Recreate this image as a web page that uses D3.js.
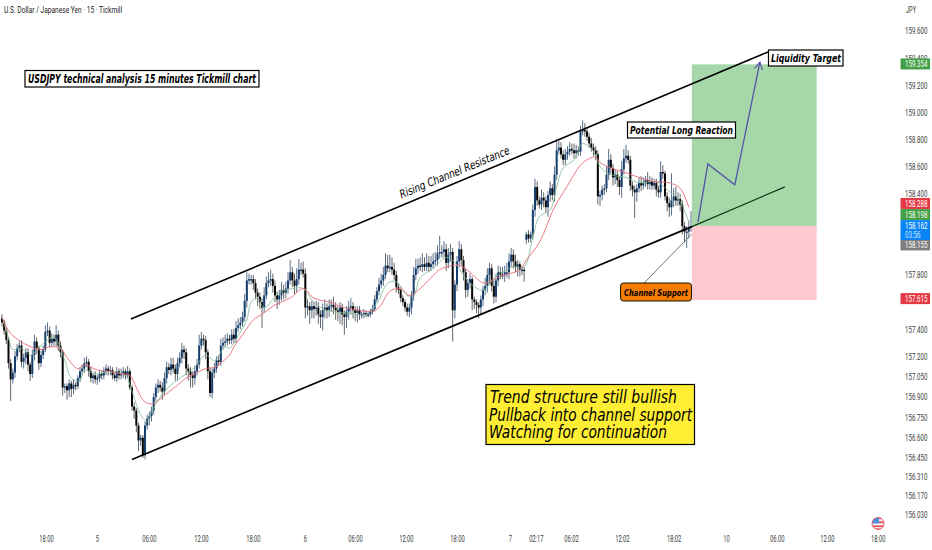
<!DOCTYPE html>
<html><head><meta charset="utf-8">
<script src="https://cdnjs.cloudflare.com/ajax/libs/d3/7.8.5/d3.min.js"></script>
<style>html,body{margin:0;padding:0;background:#fff}svg{display:block}
.ann{font-family:"DejaVu Sans",sans-serif;font-style:italic;fill:#000}
.ax{font-family:"Liberation Sans Narrow",Roboto,sans-serif;fill:#3a3a3a}</style>
</head><body><div id="chart"></div>
<script>
// Closing prices, one per 15-minute bar
const closes=[
157.45,157.39,157.32,157.15,157.03,157.08,157.20,157.26,157.28,157.16,157.19,157.23,157.14,157.07,157.21,157.31,157.26,157.15,157.21,157.25,
157.38,157.39,157.30,157.33,157.31,157.36,157.28,157.23,156.97,156.98,156.95,157.00,156.96,156.99,156.98,157.04,157.09,157.11,157.15,157.16,
157.09,157.04,157.06,157.03,157.04,157.07,157.06,157.09,157.11,157.09,157.10,157.06,157.04,157.09,157.06,157.07,157.09,157.06,157.09,156.97,
156.83,156.80,156.69,156.58,156.60,156.47,156.69,156.74,156.76,156.80,156.90,156.97,156.99,156.97,156.94,157.04,157.12,157.10,157.14,157.11,
157.07,157.15,157.19,157.25,157.23,157.11,157.09,157.06,157.04,157.09,157.14,157.28,157.33,157.32,157.23,157.09,156.93,157.08,157.11,157.17,
157.16,157.28,157.30,157.31,157.33,157.32,157.36,157.33,157.41,157.43,157.45,157.49,157.61,157.76,157.77,157.77,157.74,157.67,157.64,157.60,
157.56,157.65,157.74,157.76,157.77,157.72,157.65,157.62,157.65,157.69,157.67,157.70,157.76,157.82,157.76,157.72,157.77,157.84,157.84,157.81,
157.56,157.57,157.54,157.57,157.55,157.56,157.51,157.49,157.54,157.56,157.54,157.57,157.58,157.56,157.54,157.53,157.56,157.51,157.49,157.53,
157.56,157.57,157.54,157.52,157.54,157.51,157.51,157.52,157.51,157.51,157.53,157.55,157.62,157.68,157.73,157.76,157.80,157.87,157.85,157.86,
157.84,157.80,157.71,157.69,157.63,157.60,157.56,157.53,157.56,157.65,157.80,157.85,157.87,157.86,157.88,157.86,157.89,157.86,157.88,157.90,
157.91,157.96,157.97,157.97,157.99,157.89,157.95,157.97,157.54,157.73,157.90,157.99,157.91,157.82,157.69,157.74,157.77,157.62,157.60,157.58,
157.56,157.62,157.69,157.72,157.80,157.85,157.72,157.64,157.76,157.82,157.80,157.80,157.82,157.82,157.90,157.95,157.90,157.86,157.88,157.84,
157.84,157.83,158.10,158.07,158.10,158.28,158.45,158.35,158.32,158.37,158.35,158.30,158.39,158.44,158.39,158.54,158.72,158.74,158.69,158.65,
158.69,158.71,158.73,158.72,158.70,158.72,158.71,158.86,158.87,158.86,158.82,158.77,158.74,158.72,158.69,158.38,158.39,158.43,158.44,158.54,
158.65,158.59,158.52,158.54,158.50,158.45,158.58,158.66,158.68,158.65,158.46,158.43,158.41,158.44,158.48,158.46,158.48,158.50,158.47,158.49,
158.46,158.48,158.43,158.41,158.56,158.55,158.38,158.33,158.30,158.35,158.38,158.35,158.36,158.32,158.16,158.12,158.12,158.15,158.162];
// Wick lengths above / below each candle body, in hundredths of a yen
const upperWicks=[
3,2,2,2,3,3,4,3,3,4,3,3,3,2,4,5,3,2,3,3,
5,6,3,4,3,7,3,3,2,2,2,3,2,4,2,2,3,3,4,4,
2,3,2,3,2,3,2,3,3,2,3,2,2,3,2,4,3,2,4,2,
2,3,2,2,2,2,3,3,3,3,3,3,4,3,4,4,4,3,5,5,
3,4,4,5,3,3,3,3,3,4,4,8,5,3,3,2,3,3,4,3,
4,5,4,5,4,3,4,4,5,5,4,4,5,6,4,3,3,3,3,3,
3,6,5,6,7,4,4,3,4,6,4,5,6,9,4,5,8,8,5,6,
4,5,3,4,3,5,4,3,5,6,3,5,4,6,4,3,4,3,3,4,
5,6,3,3,3,3,2,3,2,2,2,3,3,3,5,5,6,9,8,9,
7,5,3,3,2,2,2,3,3,3,6,7,5,6,8,5,7,5,6,6,
6,6,12,5,6,4,5,6,3,3,4,6,4,3,3,3,4,2,2,2,
2,3,3,6,5,4,3,5,5,5,4,6,5,7,6,5,4,5,3,2,
3,2,2,3,2,4,6,4,3,6,4,3,3,5,3,6,8,5,4,3,
4,4,5,4,5,4,3,4,7,5,3,3,4,3,3,3,3,3,3,6,
8,4,3,4,3,3,6,7,8,4,3,3,3,3,4,5,4,3,6,4,
3,3,3,3,8,5,2,3,4,20,6,7,5,4,3,3,4,5,11];
const lowerWicks=[
3,3,3,4,16,3,4,3,3,4,5,5,5,5,3,4,4,5,3,3,
2,3,3,3,3,4,4,4,6,4,7,5,6,4,3,2,3,3,3,3,
4,3,4,3,4,3,3,3,3,3,3,3,2,3,3,3,3,3,2,2,
3,6,5,8,4,2,3,3,5,4,3,3,4,3,6,3,4,3,4,3,
5,5,3,4,5,5,7,9,7,5,3,3,3,4,5,6,3,4,4,3,
3,3,3,3,3,3,3,3,3,3,3,3,3,5,3,4,5,5,7,5,
15,4,3,3,4,5,5,7,4,4,5,4,4,3,5,6,5,4,4,3,
8,6,10,6,7,5,7,8,10,6,6,5,4,5,7,7,9,8,13,8,
6,5,6,6,7,4,3,3,2,2,2,2,2,2,3,3,4,3,3,3,
4,4,4,3,3,3,3,3,4,5,4,4,4,3,4,3,3,4,3,3,
3,4,4,4,4,6,4,5,23,6,5,4,4,6,6,5,4,8,5,6,
8,5,5,4,5,7,4,5,4,4,3,3,5,4,5,4,5,4,7,5,
4,8,3,3,3,4,5,4,3,4,5,4,7,5,4,5,4,3,3,4,
4,4,3,3,4,4,3,3,3,4,3,3,3,4,4,6,7,4,4,3,
4,4,6,5,5,6,8,4,3,3,4,5,19,7,3,4,3,3,4,4,
3,3,5,4,4,4,3,6,7,6,5,4,4,5,6,8,12,5,3];
const sessionGapBar=242, sessionGapOpen=158.06;

// Moving averages
const redBars=[0,3,6,12,18,22,27,30,35,38,44,50,55,59,62,65,68,71,74,80,85,90,94,98,105,107,112,116,120,126,133,139,144,151,158,165,170,174,179,184,188,193,198,202,208,211,216,221,223,230,239,242,248,255,261,267,271,274,276,281,287,294,301,308,313,317];
const redValues=[157.49,157.39,157.34,157.28,157.25,157.27,157.26,157.19,157.11,157.14,157.10,157.09,157.07,157.06,156.97,156.88,156.85,156.86,156.90,156.975,157.04,157.08,157.11,157.12,157.21,157.27,157.38,157.47,157.51,157.58,157.63,157.70,157.63,157.60,157.56,157.54,157.53,157.56,157.68,157.70,157.65,157.70,157.78,157.84,157.87,157.87,157.82,157.75,157.74,157.79,157.84,157.91,158.04,158.30,158.46,158.61,158.66,158.67,158.63,158.59,158.56,158.52,158.49,158.48,158.44,158.30];
const greenBars=[0,3,5,9,13,20,24,29,32,36,38,43,50,57,60,64,67,69,73,78,84,89,94,98,103,105,110,113,115,118,121,128,134,139,144,150,159,168,173,178,182,187,190,193,199,205,208,216,222,228,236,241,245,248,253,256,259,264,268,273,276,281,288,294,302,307,313,317];
const greenValues=[157.49,157.34,157.25,157.26,157.21,157.31,157.34,157.17,157.04,157.02,157.10,157.07,157.09,157.06,156.94,156.77,156.72,156.79,156.90,156.99,157.06,157.12,157.21,157.17,157.27,157.26,157.38,157.47,157.60,157.63,157.56,157.67,157.70,157.70,157.60,157.54,157.52,157.51,157.59,157.74,157.75,157.65,157.65,157.78,157.85,157.93,157.91,157.74,157.69,157.79,157.86,157.86,158.08,158.23,158.28,158.45,158.59,158.65,158.77,158.71,158.60,158.54,158.52,158.48,158.49,158.43,158.34,158.19];

// Price axis
const priceTicks=[159.6,159.4,159.2,159.0,158.8,158.6,158.4,157.8,157.4,157.2,157.05,156.9,156.75,156.6,156.45,156.31,156.17,156.03];
// Time axis: labels and the bar position each label sits at
const timeLabels=["18:00","5","06:00","12:00","18:00","6","06:00","12:00","18:00","7","02:17","06:02","12:02","18:02","10","06:00","12:00","18:00"];
const timeBars=[20.3,43.8,67.8,91.8,115.8,139.8,162.9,186.4,210,234.4,246.4,262.6,286.1,310,334.1,357.6,380.7,404.2];

// Trade and drawing levels
const entryPrice=158.162, targetPrice=159.354, stopPrice=157.615;
const tradeStartBar=318.4, tradeEndBar=376;
const upperChannelBars=[59.5,353.5], upperChannelPrices=[157.476,159.445];
const lowerChannelBars=[60,318.4,361.3], lowerChannelPrices=[156.44,158.157,158.45];
const projectionBars=[321.2,325.8,338.2,349.8], projectionPrices=[158.19,158.62,158.465,159.37];
const supportArrowBars=[296.3,318.2], supportArrowPrices=[157.74,158.10];

const W=932,H=550;
const x=d3.scaleLinear().domain([0,318]).range([2,691]);
const y=d3.scaleLinear().domain([159.6,156.03]).range([31,515]);
const svg=d3.select("#chart").append("svg").attr("width",W).attr("height",H).attr("viewBox",[0,0,W,H]);
const defs=svg.append("defs");
defs.append("clipPath").attr("id","flagclip").append("circle").attr("cx",878).attr("cy",523.5).attr("r",6);
defs.append("marker").attr("id","ab").attr("viewBox","0 0 10 10").attr("refX",9).attr("refY",5)
  .attr("markerWidth",9).attr("markerHeight",9).attr("markerUnits","userSpaceOnUse").attr("orient","auto")
  .append("path").attr("d","M1,0.5L9,5L1,9.5").attr("fill","none").attr("stroke","#5453a8").attr("stroke-width",1.3);

// position tool
svg.append("rect").attr("x",x(tradeStartBar)).attr("width",x(tradeEndBar)-x(tradeStartBar))
  .attr("y",y(targetPrice)).attr("height",y(entryPrice)-y(targetPrice)).attr("fill","#a6d7a8");
svg.append("rect").attr("x",x(tradeStartBar)).attr("width",x(tradeEndBar)-x(tradeStartBar))
  .attr("y",y(entryPrice)).attr("height",y(stopPrice)-y(entryPrice)).attr("fill","#fdc9cf");

// candles
const bars=closes.map((c,i)=>{
  const o=i===sessionGapBar?sessionGapOpen:(i?closes[i-1]:c+0.03);
  return {i,o,c,h:Math.max(o,c)+upperWicks[i]/100,l:Math.min(o,c)-lowerWicks[i]/100};
});
const g=svg.append("g");
g.selectAll("line.w").data(bars).join("line").attr("class","w")
  .attr("x1",d=>x(d.i)).attr("x2",d=>x(d.i)).attr("y1",d=>y(d.h)).attr("y2",d=>y(d.l))
  .attr("stroke",d=>d.c>=d.o?"#4a617f":"#555").attr("stroke-width",0.9);
g.selectAll("rect").data(bars).join("rect")
  .attr("x",d=>x(d.i)-1).attr("width",2)
  .attr("y",d=>y(Math.max(d.o,d.c))).attr("height",d=>Math.max(1.5,Math.abs(y(d.o)-y(d.c))))
  .attr("fill",d=>d.c>=d.o?"#173f6e":"#050505");

// moving averages
const ma=d3.line().x(d=>x(d[0])).y(d=>y(d[1])).curve(d3.curveCatmullRom);
svg.append("path").attr("d",ma(d3.zip(greenBars,greenValues))).attr("fill","none").attr("stroke","#7dbb8e").attr("stroke-width",0.8);
svg.append("path").attr("d",ma(d3.zip(redBars,redValues))).attr("fill","none").attr("stroke","#ea6a76").attr("stroke-width",0.9);

// channel lines
const ln=d3.line().x(d=>x(d[0])).y(d=>y(d[1]));
svg.append("path").attr("d",ln(d3.zip(upperChannelBars,upperChannelPrices))).attr("stroke","#000").attr("stroke-width",1.6).attr("fill","none");
svg.append("path").attr("d",ln(d3.zip(lowerChannelBars,lowerChannelPrices).slice(0,2))).attr("stroke","#000").attr("stroke-width",1.7).attr("fill","none");
svg.append("path").attr("d",ln(d3.zip(lowerChannelBars,lowerChannelPrices).slice(1))).attr("stroke","#0b3d16").attr("stroke-width",1.2).attr("fill","none");

// projection
svg.append("path").attr("d",ln(d3.zip(projectionBars,projectionPrices))).attr("stroke","#5453a8").attr("stroke-width",1.3).attr("fill","none").attr("marker-end","url(#ab)");
// support pointer
svg.append("path").attr("d",ln(d3.zip(supportArrowBars,supportArrowPrices))).attr("stroke","#666").attr("stroke-width",0.9).attr("fill","none");

// annotation boxes
function box(bx,by,bw,bh,fill,rx,sw){svg.append("rect").attr("x",bx).attr("y",by).attr("width",bw).attr("height",bh).attr("fill",fill).attr("stroke","#000").attr("stroke-width",sw||1.2).attr("rx",rx||0);}
function note(t,tx,ty,fs,len,ws){svg.append("text").attr("class","ann").attr("x",tx).attr("y",ty).attr("font-size",fs).attr("font-weight",ws||"normal").attr("textLength",len).attr("lengthAdjust","spacingAndGlyphs").text(t);}
box(25,70.5,234,16.5,"#fff");
note("USDJPY technical analysis 15 minutes Tickmill chart",28,82.5,11.5,228,"bold");
box(627.5,122,108,16,"#fff");
note("Potential Long Reaction",630,134,11,103,"bold");
box(768.5,50,74.5,16,"#fff");
note("Liquidity Target",771,62,11,70,"bold");
box(620.5,283,71,18,"#f57c00",3,0.9);
note("Channel Support",624,295.5,9.5,64,"bold");
box(486,384.5,208.5,60,"#ffee33",0,1.2);
note("Trend structure still bullish",490,403,17,187);
note("Pullback into channel support",489,421,17,203);
note("Watching for continuation",489,438,17,178);
svg.append("text").attr("class","ann").attr("font-size",11.5).attr("text-anchor","middle").attr("textLength",118).attr("lengthAdjust","spacingAndGlyphs")
  .attr("transform","translate(456,176) rotate(-22.4)").text("Rising Channel Resistance");

// header
const narrow=(sel,perChar)=>sel.attr("textLength",function(){return this.textContent.replace(/[.:]/g,"").length*perChar+this.textContent.replace(/[^.:]/g,"").length*1.6}).attr("lengthAdjust","spacingAndGlyphs");
svg.append("text").attr("class","ax").attr("x",4).attr("y",13).attr("font-size",9).attr("textLength",118).attr("lengthAdjust","spacingAndGlyphs").style("fill","#222").text("U.S. Dollar / Japanese Yen · 15 · Tickmill");
svg.append("text").attr("class","ax").attr("x",906).attr("y",13).attr("font-size",9).attr("textLength",10).attr("lengthAdjust","spacingAndGlyphs").text("JPY");

// axes
const yAxis=d3.axisRight(y).tickValues(priceTicks).tickSize(0).tickPadding(0).tickFormat(d3.format(".3f"));
const ya=svg.append("g").attr("transform","translate(905,0)").call(yAxis);
ya.select(".domain").remove();
ya.selectAll("text").attr("class","ax").attr("font-size",9).attr("textLength",22.5).attr("lengthAdjust","spacingAndGlyphs");
const xAxis=d3.axisBottom(x).tickValues(timeBars).tickSize(0).tickFormat((d,i)=>timeLabels[i]);
const xa=svg.append("g").attr("transform","translate(0,533)").call(xAxis);
xa.select(".domain").remove();
xa.selectAll("text").attr("class","ax").attr("font-size",9).call(narrow,3.2);

// price tags
const tags=[
 {v:targetPrice,t:"159.354",c:"#43a047",dy:-0.4},
 {v:158.288,t:"158.288",c:"#e53946",dy:-5.4},
 {v:158.198,t:"158.198",c:"#43a047",dy:-6.5},
 {v:158.155,t:"158.155",c:"#7f7f7f",dy:18},
 {v:stopPrice,t:"157.615",c:"#e53946",dy:-1.5}];
const tagText=(t,tx,ty,col,len)=>svg.append("text").attr("class","ax").attr("x",tx).attr("y",ty).attr("font-size",9).attr("text-anchor","start").attr("textLength",len).attr("lengthAdjust","spacingAndGlyphs").style("fill",col).text(t);
tags.forEach(d=>{
  const ty=y(d.v)+d.dy;
  svg.append("rect").attr("x",900.5).attr("y",ty-5.5).attr("width",29.5).attr("height",11).attr("fill",d.c);
  tagText(d.t,905,ty+3.3,"#fff",22.5);
});
const lastY=y(158.198)-1;
svg.append("rect").attr("x",900.5).attr("y",lastY).attr("width",29.5).attr("height",20).attr("fill","#0a84f5");
tagText("158.162",905,lastY+8.6,"#fff",22.5);
tagText("03:56",905,lastY+17.6,"#cfe6ff",15.5);

// flag
const fl=svg.append("g").attr("clip-path","url(#flagclip)");
fl.append("rect").attr("x",872).attr("y",517.5).attr("width",12).attr("height",12).attr("fill","#f6f6f6");
[517.5,521.5,525.5,528.5].forEach(v=>fl.append("rect").attr("x",872).attr("y",v).attr("width",12).attr("height",1.6).attr("fill","#e6474f"));
fl.append("rect").attr("x",872).attr("y",517.5).attr("width",7).attr("height",6).attr("fill","#4a90e2");
svg.append("circle").attr("cx",878).attr("cy",523.5).attr("r",6).attr("fill","none").attr("stroke","#e6474f").attr("stroke-width",0.8);
</script></body></html>
